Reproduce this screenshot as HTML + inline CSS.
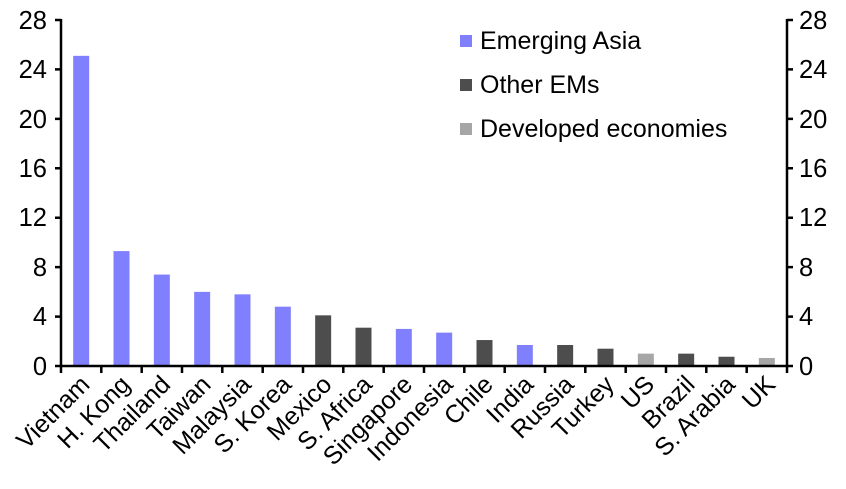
<!DOCTYPE html>
<html><head><meta charset="utf-8"><style>
html,body{margin:0;padding:0;background:#fff}
svg{display:block;font-family:"Liberation Sans",Arial,sans-serif}
</style></head><body>
<svg width="846" height="489" viewBox="0 0 846 489" xmlns="http://www.w3.org/2000/svg">
<g id="bars"></g>
<g stroke="#000" stroke-width="2.5" fill="none">
<line x1="61" y1="19" x2="61" y2="367"/>
<line x1="787" y1="19" x2="787" y2="367"/>
<line x1="55" y1="366" x2="793" y2="366"/>
<path d="M55 20H61M55 69.4H61M55 118.9H61M55 168.3H61M55 217.7H61M55 267.1H61M55 316.6H61M787 20H793M787 69.4H793M787 118.9H793M787 168.3H793M787 217.7H793M787 267.1H793M787 316.6H793"/>
<path d="M61 366V373M101.3 366V373M141.7 366V373M182 366V373M222.3 366V373M262.7 366V373M303 366V373M343.3 366V373M383.7 366V373M424 366V373M464.3 366V373M504.7 366V373M545 366V373M585.3 366V373M625.7 366V373M666 366V373M706.3 366V373M746.7 366V373M787 366V373"/>
</g>
<g font-size="25.5" fill="#000" text-anchor="end">
<text x="47" y="29">28</text><text x="47" y="78">24</text><text x="47" y="128">20</text><text x="47" y="177">16</text><text x="47" y="226">12</text><text x="47" y="276">8</text><text x="47" y="325">4</text><text x="47" y="375">0</text>
</g>
<g font-size="25.5" fill="#000" text-anchor="start">
<text x="799" y="29">28</text><text x="799" y="78">24</text><text x="799" y="128">20</text><text x="799" y="177">16</text><text x="799" y="226">12</text><text x="799" y="276">8</text><text x="799" y="325">4</text><text x="799" y="375">0</text>
</g>
<g font-size="25">
<rect x="460" y="35" width="12" height="12" fill="#8080FF"/><text x="480" y="49">Emerging Asia</text>
<rect x="460" y="79" width="12" height="12" fill="#4D4D4D"/><text x="480" y="93">Other EMs</text>
<rect x="460" y="123" width="12" height="12" fill="#A6A6A6"/><text x="480" y="137">Developed economies</text>
</g>
<g id="xl" font-size="25" text-anchor="end"></g>
</svg>
<script>
var d=[["Vietnam",25.1,0],["H. Kong",9.3,0],["Thailand",7.4,0],["Taiwan",6.0,0],["Malaysia",5.8,0],["S. Korea",4.8,0],["Mexico",4.1,1],["S. Africa",3.1,1],["Singapore",3.0,0],["Indonesia",2.7,0],["Chile",2.1,1],["India",1.7,0],["Russia",1.7,1],["Turkey",1.4,1],["US",1.0,2],["Brazil",1.0,1],["S. Arabia",0.75,1],["UK",0.65,2]];
var c=["#8080FF","#4D4D4D","#A6A6A6"],ns="http://www.w3.org/2000/svg";
var b=document.getElementById("bars"),xl=document.getElementById("xl");
d.forEach(function(r,i){var cx=61+40.333*(i+0.5),h=r[1]*346/28;
var e=document.createElementNS(ns,"rect");e.setAttribute("x",cx-8);e.setAttribute("y",366-h);e.setAttribute("width",16);e.setAttribute("height",h);e.setAttribute("fill",c[r[2]]);b.appendChild(e);
var t=document.createElementNS(ns,"text");t.setAttribute("transform","translate("+(cx+10)+",386) rotate(-45)");t.textContent=r[0];xl.appendChild(t);});
</script>
</body></html>
